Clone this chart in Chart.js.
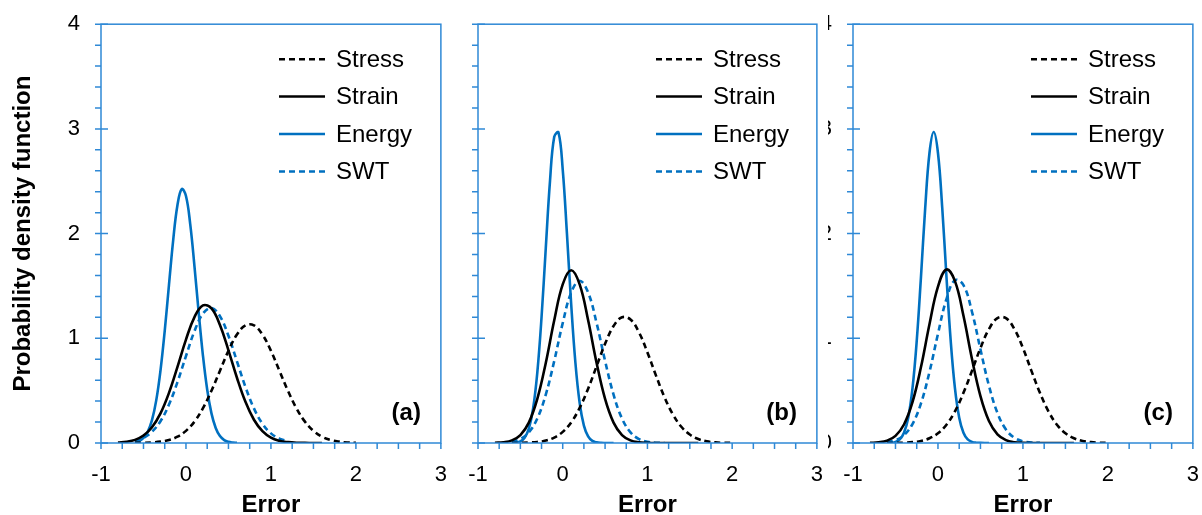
<!DOCTYPE html>
<html>
<head>
<meta charset="utf-8">
<script src="https://cdn.jsdelivr.net/npm/chart.js@4.4.0/dist/chart.umd.min.js"></script>
<style>
    html, body { margin: 0; padding: 0; background: #fff; overflow: hidden; }
    .wrap { position: absolute; top: 0; height: 515px; overflow: hidden; }
    .box { position: absolute; top: -10px; height: 550px; }
</style>
</head>
<body>
<div class="wrap" style="left:0;width:458px"><div class="box" style="left:0;width:466px"><canvas id="panel-a"></canvas></div></div>
<div class="wrap" style="left:458px;width:370px"><div class="box" style="left:-81px;width:465px"><canvas id="panel-b"></canvas></div></div>
<div class="wrap" style="left:828px;width:374px"><div class="box" style="left:-76px;width:466px"><canvas id="panel-c"></canvas></div></div>
<script>
// x positions of the sampled points
const xStress = [-0.6, -0.5, -0.4, -0.3, -0.2, -0.1, 0, 0.1, 0.2, 0.3, 0.4, 0.5, 0.6, 0.7, 0.8, 0.9, 1.0, 1.1, 1.2, 1.3, 1.4, 1.5, 1.6, 1.7, 1.8, 1.9, 2.0];
const xStrain = [-0.8, -0.7, -0.6, -0.5, -0.4, -0.3, -0.2, -0.1, 0, 0.1, 0.2, 0.3, 0.4, 0.5, 0.6, 0.7, 0.8, 0.9, 1.0, 1.1, 1.2, 1.3, 1.4, 1.5, 1.6];
const xSwt = [-0.6, -0.5, -0.4, -0.3, -0.2, -0.1, 0, 0.1, 0.2, 0.3, 0.4, 0.5, 0.6, 0.7, 0.8, 0.9, 1.0, 1.1, 1.2];
const xEnergy = [-0.6, -0.55, -0.5, -0.45, -0.4, -0.35, -0.3, -0.25, -0.2, -0.15, -0.1, -0.05, 0, 0.05, 0.1, 0.15, 0.2, 0.25, 0.3, 0.35, 0.4, 0.45, 0.5, 0.55, 0.6];

// panel (a)
const stressA = [0.001, 0.002, 0.005, 0.013, 0.029, 0.060, 0.116, 0.204, 0.332, 0.499, 0.690, 0.881, 1.036, 1.124, 1.124, 1.036, 0.881, 0.690, 0.499, 0.332, 0.204, 0.116, 0.060, 0.029, 0.013, 0.005, 0.002];
const strainA = [0.004, 0.012, 0.030, 0.071, 0.150, 0.283, 0.479, 0.727, 0.988, 1.203, 1.314, 1.285, 1.127, 0.885, 0.623, 0.393, 0.222, 0.113, 0.051, 0.021, 0.008, 0.002, 0.001, 0, 0];
const energyA = [0.007, 0.019, 0.048, 0.107, 0.218, 0.407, 0.692, 1.071, 1.510, 1.941, 2.273, 2.425, 2.359, 2.090, 1.688, 1.242, 0.833, 0.509, 0.283, 0.144, 0.066, 0.028, 0.011, 0.004, 0.001];
const swtA = [0.020, 0.049, 0.107, 0.208, 0.367, 0.582, 0.830, 1.068, 1.236, 1.289, 1.211, 1.024, 0.780, 0.535, 0.331, 0.184, 0.092, 0.042, 0.017];

// panel (b)
const stressB = [0, 0.001, 0.004, 0.010, 0.023, 0.052, 0.106, 0.197, 0.335, 0.519, 0.734, 0.947, 1.117, 1.201, 1.179, 1.057, 0.865, 0.646, 0.440, 0.274, 0.155, 0.081, 0.038, 0.016, 0.006, 0.002, 0.001];
const strainB = [0.002, 0.007, 0.025, 0.076, 0.195, 0.421, 0.765, 1.172, 1.515, 1.650, 1.515, 1.172, 0.765, 0.421, 0.195, 0.076, 0.025, 0.007, 0.002, 0, 0, 0, 0, 0, 0];
const energyB = [0.001, 0.004, 0.016, 0.051, 0.138, 0.327, 0.673, 1.201, 1.861, 2.503, 2.925, 2.966, 2.612, 1.997, 1.325, 0.764, 0.382, 0.166, 0.063, 0.020, 0.006, 0.001, 0, 0, 0];
const swtB = [0.012, 0.038, 0.102, 0.234, 0.462, 0.784, 1.145, 1.437, 1.550, 1.437, 1.145, 0.784, 0.462, 0.234, 0.102, 0.038, 0.012, 0.003, 0.001];

// panel (c)
const stressC = [0, 0.001, 0.003, 0.008, 0.020, 0.045, 0.093, 0.175, 0.303, 0.479, 0.689, 0.907, 1.088, 1.192, 1.192, 1.088, 0.907, 0.689, 0.479, 0.303, 0.175, 0.093, 0.045, 0.020, 0.008, 0.003, 0.001];
const strainC = [0.001, 0.006, 0.022, 0.068, 0.177, 0.390, 0.725, 1.134, 1.494, 1.657, 1.546, 1.215, 0.804, 0.448, 0.210, 0.083, 0.028, 0.008, 0.002, 0, 0, 0, 0, 0, 0];
const energyC = [0.001, 0.003, 0.011, 0.034, 0.098, 0.242, 0.521, 0.975, 1.587, 2.248, 2.770, 2.970, 2.770, 2.248, 1.587, 0.975, 0.521, 0.242, 0.098, 0.034, 0.011, 0.003, 0.001, 0, 0];
const swtC = [0.008, 0.026, 0.074, 0.181, 0.378, 0.678, 1.043, 1.375, 1.555, 1.508, 1.254, 0.894, 0.547, 0.287, 0.129, 0.050, 0.016, 0.005, 0.001];

const seriesNames = ["Stress", "Strain", "Energy", "SWT"];
const yMinorTicks = [0, 0.2, 0.4, 0.6, 0.8, 1, 1.2, 1.4, 1.6, 1.8, 2, 2.2, 2.4, 2.6, 2.8, 3, 3.2, 3.4, 3.6, 3.8, 4];
const xMinorTicks = [-1, -0.75, -0.5, -0.25, 0, 0.25, 0.5, 0.75, 1, 1.25, 1.5, 1.75, 2, 2.25, 2.5, 2.75, 3];

const FONT = '"Liberation Sans", Arial, sans-serif';
const AXIS_BLUE = "#2f89d6";
const LINE_BLUE = "#0070c0";

const toPoints = (xs, ys) => xs.map((x, i) => ({ x: x, y: ys[i] }));

// frame, tick marks, legend and panel letter
const decoPlugin = {
    id: "deco",
    afterDraw(chart, args, opts) {
        const { ctx, chartArea: a, scales } = chart;
        ctx.save();
        ctx.strokeStyle = AXIS_BLUE;
        ctx.lineWidth = 1.5;
        ctx.setLineDash([]);
        ctx.strokeRect(a.left, a.top, a.right - a.left, a.bottom - a.top);
        ctx.beginPath();
        yMinorTicks.forEach((v) => {
            const py = scales.y.getPixelForValue(v);
            const major = Number.isInteger(v);
            ctx.moveTo(a.left - 6, py);
            ctx.lineTo(major ? a.left + 7 : a.left, py);
        });
        xMinorTicks.forEach((v) => {
            const px = scales.x.getPixelForValue(v);
            ctx.moveTo(px, a.bottom);
            ctx.lineTo(px, a.bottom + 6);
        });
        ctx.stroke();

        // legend
        ctx.font = "24px " + FONT;
        ctx.textBaseline = "middle";
        ctx.textAlign = "left";
        chart.data.datasets.forEach((ds, i) => {
            const ly = a.top + 35 + i * 37.4;
            const lx = a.left + 178;
            ctx.beginPath();
            ctx.setLineDash(ds.borderDash || []);
            ctx.strokeStyle = ds.borderColor;
            ctx.lineWidth = 2.5;
            ctx.moveTo(lx, ly);
            ctx.lineTo(lx + 46, ly);
            ctx.stroke();
            ctx.fillStyle = "#000";
            ctx.fillText(ds.label, lx + 57, ly + 1);
        });

        ctx.font = "bold 24px " + FONT;
        ctx.textAlign = "right";
        ctx.fillText(opts.label, a.right - 20, a.bottom - 30);
        ctx.restore();
    },
};

const makePanel = (id, label, stress, strain, energy, swt, showTitle) => {
    const ctx = document.getElementById(id).getContext("2d");
    new Chart(ctx, {
        type: "line",
        data: {
            datasets: [
                { label: seriesNames[0], data: toPoints(xStress, stress), borderColor: "#000", borderDash: [6, 4] },
                { label: seriesNames[1], data: toPoints(xStrain, strain), borderColor: "#000" },
                { label: seriesNames[2], data: toPoints(xEnergy, energy), borderColor: LINE_BLUE },
                { label: seriesNames[3], data: toPoints(xSwt, swt), borderColor: LINE_BLUE, borderDash: [6, 4] },
            ],
        },
        options: {
            responsive: true,
            maintainAspectRatio: false,
            animation: false,
            layout: { padding: 0 },
            elements: {
                point: { radius: 0 },
                line: { tension: 0.4, borderWidth: 2.6, fill: false },
            },
            plugins: {
                legend: { display: false },
                tooltip: { enabled: false },
                deco: { label: label },
            },
            scales: {
                x: {
                    type: "linear",
                    min: -1,
                    max: 3,
                    grid: { display: false, drawTicks: false },
                    border: { display: false },
                    ticks: { stepSize: 1, padding: 19, color: "#000", font: { size: 22, family: FONT } },
                    title: {
                        display: true,
                        text: "Error",
                        color: "#000",
                        font: { size: 24, weight: "bold", family: FONT, lineHeight: 1 },
                        padding: { top: 0, bottom: 23 },
                    },
                    afterFit: (s) => { s.height = 97; },
                },
                y: {
                    min: 0,
                    max: 4,
                    grid: { display: false, drawTicks: false },
                    border: { display: false },
                    ticks: { stepSize: 1, padding: 21, color: "#000", font: { size: 22, family: FONT } },
                    title: {
                        display: showTitle,
                        text: "Probability density function",
                        color: "#000",
                        font: { size: 24, weight: "bold", family: FONT, lineHeight: 1 },
                        padding: { top: 11, bottom: 0 },
                    },
                    afterFit: (s) => { s.width = 101; },
                },
            },
        },
        plugins: [decoPlugin],
    });
};

document.addEventListener("DOMContentLoaded", () => {
    makePanel("panel-a", "(a)", stressA, strainA, energyA, swtA, true);
    makePanel("panel-b", "(b)", stressB, strainB, energyB, swtB, false);
    makePanel("panel-c", "(c)", stressC, strainC, energyC, swtC, false);
});
</script>
</body>
</html>
